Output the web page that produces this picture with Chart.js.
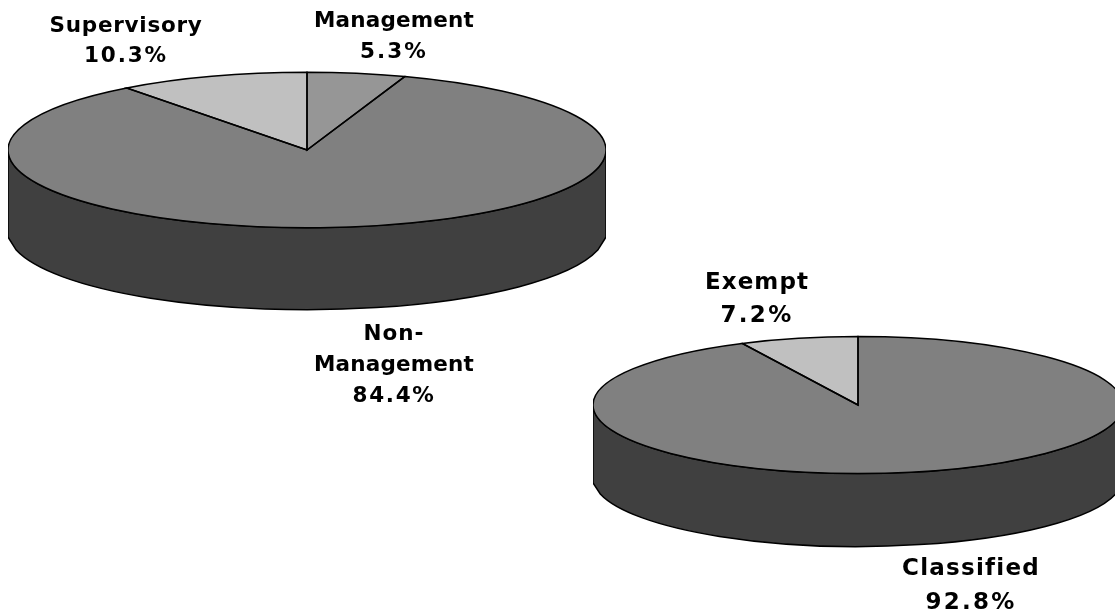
<!DOCTYPE html>
<html><head><meta charset="utf-8">
<script src="https://cdn.jsdelivr.net/npm/chart.js@4"></script>
<style>
html,body{margin:0;padding:0;background:#fff;width:1115px;height:614px;overflow:hidden}
canvas{position:absolute}
#a{left:8px;top:-149px}
#b{left:593px;top:140px}
</style></head><body>
<canvas id="a" width="598" height="598"></canvas>
<canvas id="b" width="530" height="530"></canvas>
<script>
const staffCategories = ["Management", "Non-Management", "Supervisory"];
const staffValues = [5.3, 84.4, 10.3];
const staffColors = ["#969696", "#808080", "#C0C0C0"];
const typeCategories = ["Classified", "Exempt"];
const typeValues = [92.8, 7.2];
const typeColors = ["#808080", "#C0C0C0"];
const SIDE = "#404040";
const CORNER = 0.235;

function tilted(squash, depth, fontPx, labelSpots) {
  return {
    id: "tilted",
    beforeDatasetsDraw(chart) {
      const ctx = chart.ctx, el = chart.getDatasetMeta(0).data[0];
      const x = el.x, y = el.y, r = el.outerRadius, ry = r * squash;
      ctx.beginPath();
      ctx.moveTo(x - r, y);
      ctx.lineTo(x - r, y + depth + 5);
      ctx.ellipse(x, y + depth, r, ry, 0, Math.PI - CORNER, CORNER, true);
      ctx.lineTo(x + r, y + depth + 5);
      ctx.lineTo(x + r, y);
      ctx.ellipse(x, y, r, ry, 0, 0, Math.PI, false);
      ctx.closePath();
      ctx.fillStyle = SIDE; ctx.fill();
      ctx.strokeStyle = "#000"; ctx.lineWidth = 1.5; ctx.stroke();
      ctx.save();
      ctx.translate(x, y); ctx.scale(1, squash); ctx.translate(-x, -y);
    },
    afterDatasetsDraw(chart) {
      const ctx = chart.ctx, meta = chart.getDatasetMeta(0);
      ctx.restore();
      ctx.strokeStyle = "#000"; ctx.lineWidth = 1.5;
      meta.data.forEach(el => {
        ctx.save();
        ctx.translate(el.x, el.y); ctx.scale(1, squash);
        ctx.beginPath();
        ctx.moveTo(0, 0);
        ctx.arc(0, 0, el.outerRadius, el.startAngle, el.endAngle);
        ctx.closePath();
        ctx.restore();
        ctx.stroke();
      });
      ctx.fillStyle = "#000"; ctx.font = 'bold ' + fontPx + 'px "DejaVu Sans"';
      ctx.textAlign = "center"; ctx.textBaseline = "alphabetic";
      const ds = chart.data.datasets[0];
      const box = chart.canvas.getBoundingClientRect();
      chart.data.labels.forEach((label, i) => {
        const spot = labelSpots[i];
        const words = label.indexOf("-") > 0 ? [label.split("-")[0] + "-", label.split("-")[1]] : [label];
        const lines = words.concat(ds.data[i].toFixed(1) + "%");
        lines.forEach((t, k) => {
          const [py, wanted] = spot.lines[k];
          ctx.letterSpacing = "0px";
          const extra = (wanted - ctx.measureText(t).width) / t.length;
          ctx.letterSpacing = extra.toFixed(2) + "px";
          ctx.fillText(t, spot.x - box.left, py - box.top);
        });
        ctx.letterSpacing = "0px";
      });
    }
  };
}

function pie(id, labels, values, colors, squash, depth, fontPx, spots) {
  new Chart(document.getElementById(id), {
    type: "pie",
    data: { labels, datasets: [{ data: values, backgroundColor: colors, borderWidth: 0 }] },
    options: {
      responsive: false, maintainAspectRatio: false, animation: false, devicePixelRatio: 1,
      layout: { padding: 0 },
      plugins: { legend: { display: false }, tooltip: { enabled: false } }
    },
    plugins: [tilted(squash, depth, fontPx, spots)]
  });
}

pie("a", staffCategories, staffValues, staffColors, 0.26, 82, 21.5, [
  { x: 394, lines: [[27, 160], [58, 68]] },
  { x: 394, lines: [[340, 61], [371, 160], [402, 83]] },
  { x: 126, lines: [[32, 153], [62, 84]] }
]);
pie("b", typeCategories, typeValues, typeColors, 0.2585, 73, 23, [
  { x: 971, lines: [[575, 137], [609, 91]] },
  { x: 757, lines: [[289, 104], [322, 73]] }
]);
</script>
</body></html>
